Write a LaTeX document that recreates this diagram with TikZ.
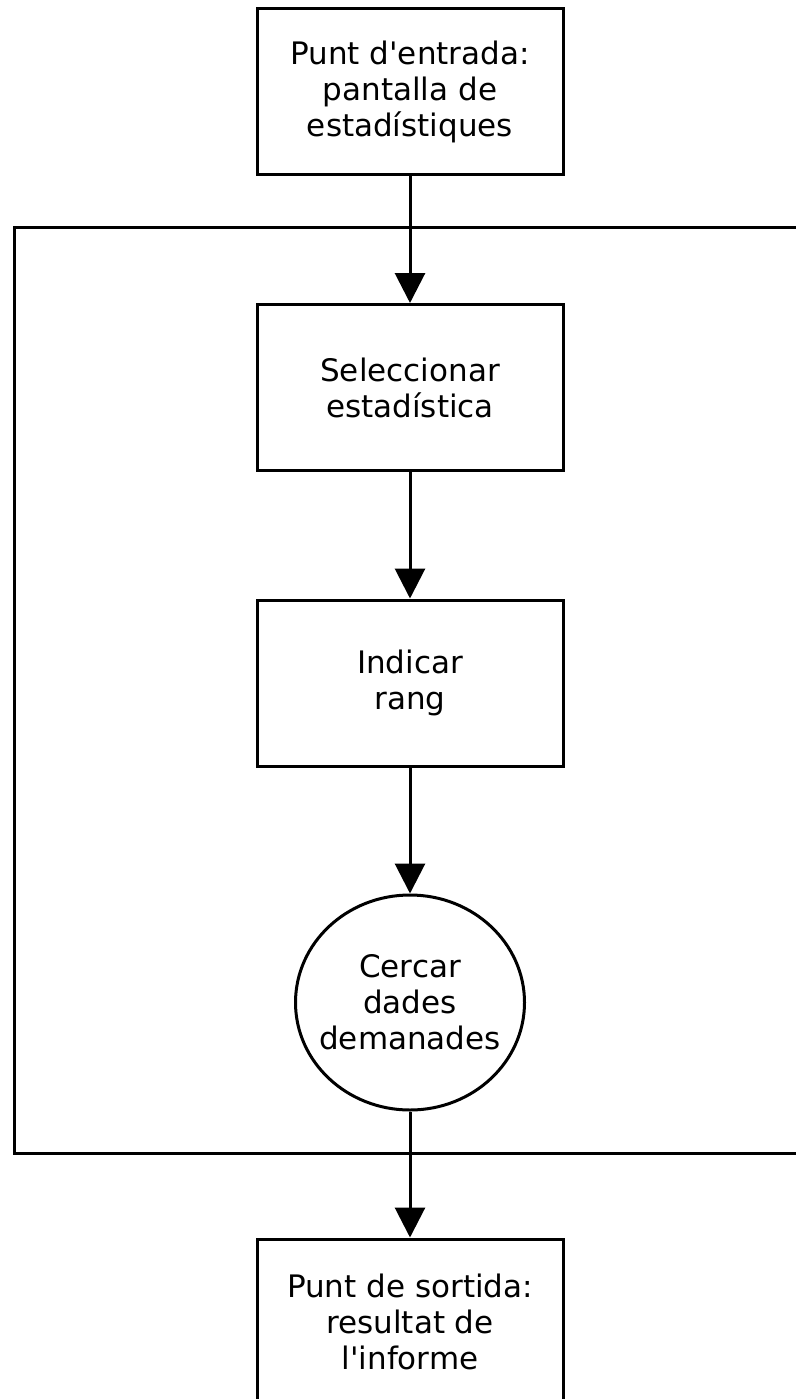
\documentclass[tikz,border=0pt]{standalone}
\usepackage{fontspec}
\setmainfont{DejaVu Sans}
\usetikzlibrary{arrows.meta,shapes.geometric}
\begin{document}
\begin{tikzpicture}[x=1pt,y=-1pt,
  line width=3pt,
  every node/.style={font=\fontsize{31}{36}\selectfont, align=center},
  stepbox/.style={draw, rectangle, minimum width=306pt, minimum height=166pt, inner sep=0pt},
  roundstep/.style={draw, ellipse, minimum width=229pt, minimum height=215pt, inner xsep=-20pt, inner ysep=0pt},
  flow/.style={-{Triangle[width=30pt,length=30pt]}, line width=3pt}
]
\useasboundingbox (0,0) rectangle (795,1399);
% loop frame (runs past the right edge)
\draw (14,227) rectangle (812,1153);
\node[stepbox] (entry) at (410,92) {Punt d\textquotesingle entrada:\\pantalla de\\estadístiques};
\node[stepbox] (select) at (410,387.5) {Seleccionar\\estadística};
\node[stepbox] (range) at (410,683) {Indicar\\rang};
\node[roundstep] (search) at (410,1002.5) {Cercar\\dades\\demanades};
\node[stepbox] (exit) at (410,1322) {Punt de sortida:\\resultat de\\l\textquotesingle informe};
\draw[flow] (entry) -- (select);
\draw[flow] (select) -- (range);
\draw[flow] (range) -- (search);
\draw[flow] (search) -- (exit);
\end{tikzpicture}
\end{document}
